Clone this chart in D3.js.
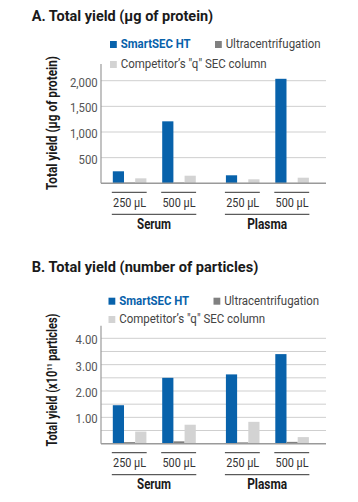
<!DOCTYPE html>
<html><head><meta charset="utf-8">
<script src="https://cdn.jsdelivr.net/npm/d3@7"></script>
<style>
body{margin:0;background:#fff}
svg{display:block}
text{font-family:Roboto,"Liberation Sans",sans-serif}
</style>
</head><body>
<svg id="c" width="358" height="502"></svg>
<script>
// ---- data ----
const samples = ["Serum", "Plasma"];
const volumes = ["250 µL", "500 µL"];
const seriesNames = ["SmartSEC HT", "Ultracentrifugation", "Competitor’s \"q\" SEC column"];
const seriesColors = ["#0862ab", "#808080", "#d3d3d3"];
// order: Serum 250, Serum 500, Plasma 250, Plasma 500
const proteinSmartSEC = [234, 1208, 156, 2037];
const proteinUltra = [15, 15, 8, 8];
const proteinCompetitor = [97, 148, 78, 109];
const particlesSmartSEC = [1.46, 2.50, 2.63, 3.40];
const particlesUltra = [0.06, 0.09, 0.05, 0.07];
const particlesCompetitor = [0.46, 0.72, 0.83, 0.25];
const proteinTicks = [500, 1000, 1500, 2000];
const proteinGrid = [500, 1000, 1500, 2000];
const particleTicks = [1, 2, 3, 4];
const particleGrid = [0.5, 1, 1.5, 2, 2.5, 3, 3.5, 4];

const svg = d3.select("#c");
const AX_L = 101, AX_R = 326;

const x0 = d3.scaleBand().domain(samples).range([97.75, 323.95]);
const x1 = d3.scaleBand().domain(volumes).range([0, x0.bandwidth()]).paddingInner(0.32).paddingOuter(0.305);
const x2 = d3.scaleBand().domain(seriesNames).range([0, x1.bandwidth()]);

function fit(sel, w) { sel.attr("textLength", w).attr("lengthAdjust", "spacingAndGlyphs"); }
function condense(sel, f) {
  sel.each(function () {
    const n = this.getComputedTextLength();
    d3.select(this).attr("textLength", n * f).attr("lengthAdjust", "spacingAndGlyphs");
  });
}

function drawChart(cfg) {
  const g = svg.append("g");
  // title
  g.append("text").attr("x", 31.7).attr("y", cfg.titleY)
    .attr("font-size", 14.5).attr("font-weight", 700).attr("fill", "#1a1a1a")
    .text(cfg.title).call(fit, cfg.titleW);

  // legend
  const lx = cfg.legendX;
  const legendItems = [
    {i: 0, x: lx, y: cfg.leg1, w: 70},
    {i: 1, x: lx + 105, y: cfg.leg1, w: 95},
    {i: 2, x: lx, y: cfg.leg2, w: 146}
  ];
  legendItems.forEach(d => {
    g.append("rect").attr("x", d.x).attr("y", d.y - 7.3).attr("width", 6.8).attr("height", 7)
      .attr("fill", seriesColors[d.i]);
    g.append("text").attr("x", d.x + 10.7).attr("y", d.y)
      .attr("font-size", 12)
      .attr("font-weight", d.i === 0 ? 700 : 400)
      .attr("fill", d.i === 0 ? seriesColors[0] : "#444")
      .text(seriesNames[d.i]).call(fit, d.w);
  });

  const y = d3.scaleLinear().domain(cfg.domain).range(cfg.range);

  // gridlines
  g.selectAll(".grid").data(cfg.grid).enter().append("line")
    .attr("x1", AX_L).attr("x2", AX_R).attr("y1", d => y(d)).attr("y2", d => y(d))
    .attr("stroke", "#cfcfcf").attr("stroke-width", 1);

  // tick labels
  g.selectAll(".tl").data(cfg.ticks).enter().append("text")
    .attr("x", 97.7).attr("y", d => y(d) + 6).attr("text-anchor", "end")
    .attr("font-size", 13.2).attr("fill", "#555")
    .text(cfg.fmt).call(condense, 0.86);

  // bars
  const cells = [];
  samples.forEach((s, si) => volumes.forEach((v, vi) => {
    const idx = si * 2 + vi;
    cfg.series.forEach((vals, k) => cells.push({s, v, k, val: vals[idx]}));
  }));
  g.selectAll(".bar").data(cells).enter().append("rect")
    .attr("x", d => x0(d.s) + x1(d.v) + x2(seriesNames[d.k]))
    .attr("width", x2.bandwidth())
    .attr("y", d => y(d.val))
    .attr("height", d => y(0) - y(d.val))
    .attr("fill", d => seriesColors[d.k]);

  // axes lines
  g.append("line").attr("x1", AX_L).attr("x2", AX_L).attr("y1", y(cfg.axisTop)).attr("y2", y(0))
    .attr("stroke", "#9a9a9a").attr("stroke-width", 1.2);
  g.append("line").attr("x1", AX_L).attr("x2", AX_R).attr("y1", y(0)).attr("y2", y(0))
    .attr("stroke", "#9a9a9a").attr("stroke-width", 1.5);

  // x labels
  const base = y(0);
  samples.forEach(s => {
    volumes.forEach(v => {
      const xs = x0(s) + x1(v);
      g.append("line").attr("x1", xs - 1).attr("x2", xs + x1.bandwidth() + 0.3)
        .attr("y1", base + 9).attr("y2", base + 9).attr("stroke", "#333").attr("stroke-width", 1);
      g.append("text").attr("x", xs + x1.bandwidth() / 2).attr("y", base + 23.6)
        .attr("text-anchor", "middle").attr("font-size", 13.2).attr("fill", "#333")
        .text(v).call(fit, 33);
    });
    const a = x0(s) + x1(volumes[0]) - 1;
    const b = x0(s) + x1(volumes[1]) + x1.bandwidth() + 0.5;
    g.append("line").attr("x1", a).attr("x2", b).attr("y1", base + 31).attr("y2", base + 31)
      .attr("stroke", "#333").attr("stroke-width", 1);
    g.append("text").attr("x", (a + b) / 2).attr("y", base + 45.3)
      .attr("text-anchor", "middle").attr("font-size", 13.8).attr("font-weight", 700).attr("fill", "#1a1a1a")
      .text(s).call(fit, s === "Serum" ? 34 : 40);
  });

  // y title
  const yt = g.append("text")
    .attr("transform", `translate(57,${cfg.ytCenter}) rotate(-90)`)
    .attr("text-anchor", "middle").attr("font-size", 13.8).attr("font-weight", 700).attr("fill", "#1a1a1a");
  cfg.ytParts.forEach(p => {
    const t = yt.append("tspan").text(p.t);
    if (p.sup) t.attr("font-size", 8).attr("dy", -5.5);
    if (p.after) t.attr("dy", 5.5);
  });
  fit(yt, cfg.ytW);
}

drawChart({
  title: "A. Total yield (µg of protein)", titleY: 21.3, titleW: 181.5,
  legendX: 110, leg1: 48.3, leg2: 68.3,
  domain: [0, 2000], range: [183.3, 80.7], axisTop: 2325,
  grid: proteinGrid, ticks: proteinTicks, fmt: d3.format(","),
  series: [proteinSmartSEC, proteinUltra, proteinCompetitor],
  ytCenter: 123, ytW: 134,
  ytParts: [{t: "Total yield (µg of protein)"}]
});

drawChart({
  title: "B. Total yield (number of particles)", titleY: 272, titleW: 226.6,
  legendX: 108.5, leg1: 305, leg2: 323.3,
  domain: [0, 4], range: [443.7, 338.3], axisTop: 4.48,
  grid: particleGrid, ticks: particleTicks, fmt: d3.format(".2f"),
  series: [particlesSmartSEC, particlesUltra, particlesCompetitor],
  ytCenter: 380, ytW: 133,
  ytParts: [{t: "Total yield (x10"}, {t: "11", sup: true}, {t: " particles)", after: true}]
});
</script>
</body></html>
